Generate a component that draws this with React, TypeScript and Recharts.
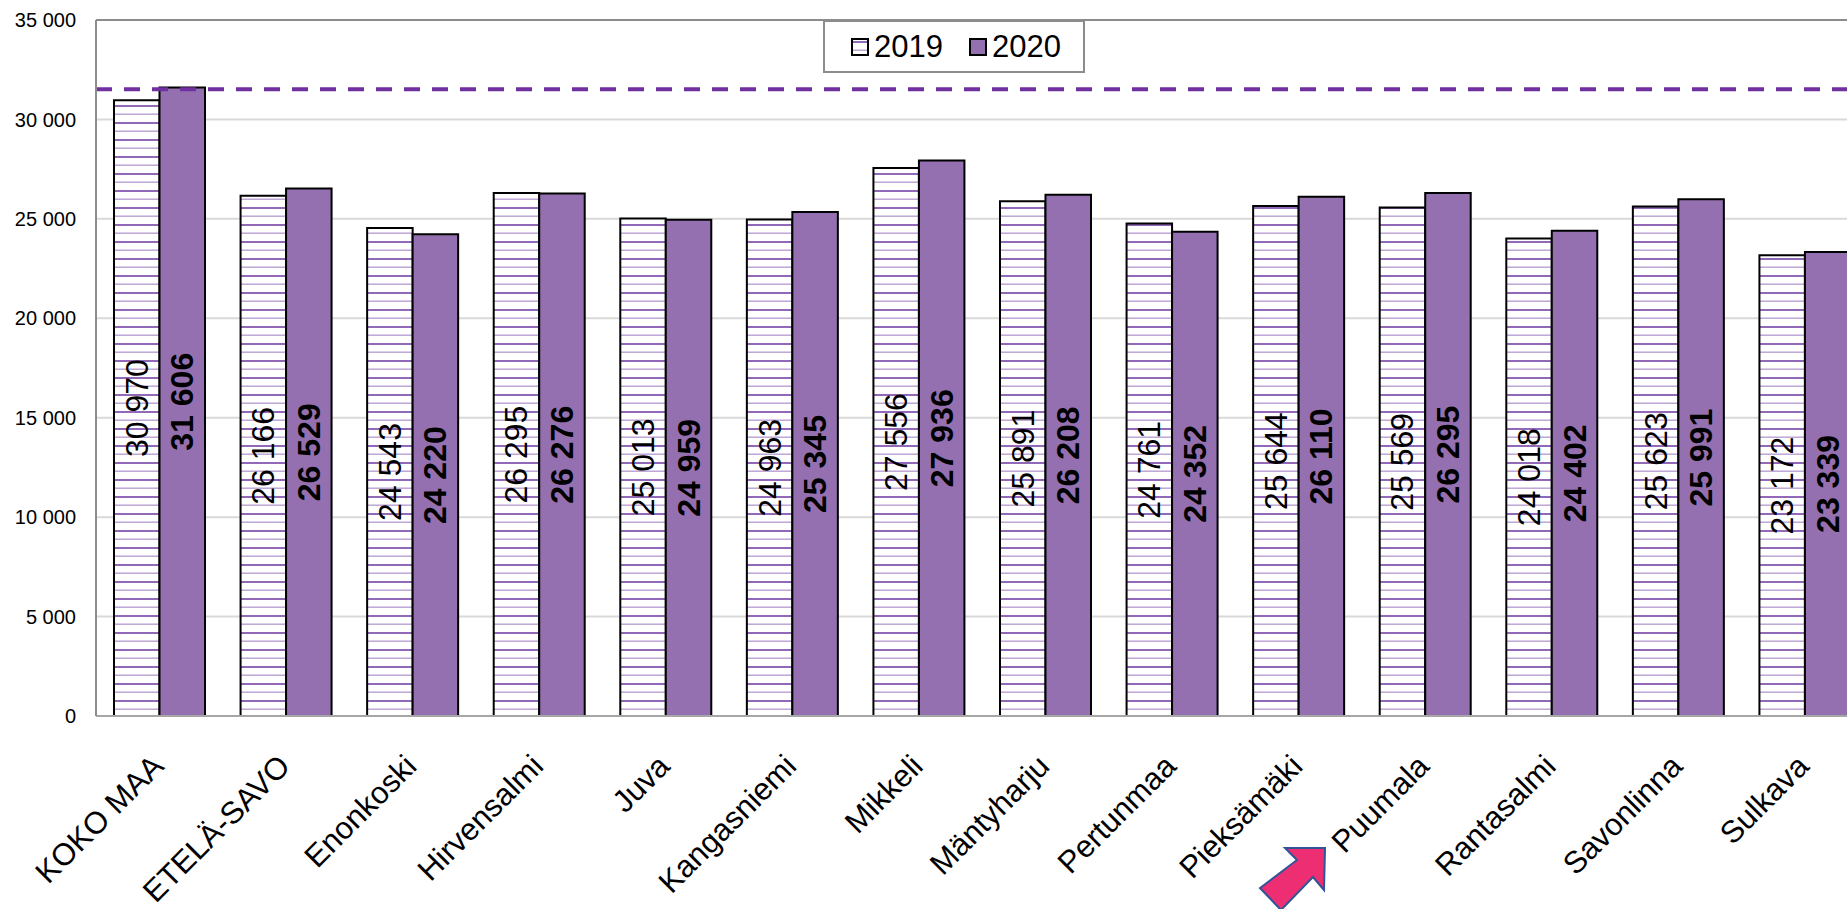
import React from 'react';
import { BarChart, Bar, XAxis, YAxis, CartesianGrid, ReferenceLine, LabelList } from 'recharts';

// Values
const municipalities = [
  'KOKO MAA', 'ETELÄ-SAVO', 'Enonkoski', 'Hirvensalmi', 'Juva', 'Kangasniemi', 'Mikkeli',
  'Mäntyharju', 'Pertunmaa', 'Pieksämäki', 'Puumala', 'Rantasalmi', 'Savonlinna', 'Sulkava',
];
const values2019 = [30970, 26166, 24543, 26295, 25013, 24963, 27556, 25891, 24761, 25644, 25569, 24018, 25623, 23172];
const values2020 = [31606, 26529, 24220, 26276, 24959, 25345, 27936, 26208, 24352, 26110, 26295, 24402, 25991, 23339];
const yTicks = [0, 5000, 10000, 15000, 20000, 25000, 30000, 35000];
const referenceValue = 31515;

const data = municipalities.map((name, i) => ({ name, y2019: values2019[i], y2020: values2020[i] }));

const FONT = '"Liberation Sans", Arial, sans-serif';
const PURPLE = '#9470b0';
const fmt = (v: number) => String(v).replace(/\B(?=(\d{3})+(?!\d))/g, ' ');

const XTick = (props: any) => {
  const { x, y, payload } = props;
  const ax = x + 6;
  const ay = y + 44;
  return (
    <text
      x={ax}
      y={ay}
      transform={`rotate(-45, ${ax}, ${ay})`}
      textAnchor="end"
      fontSize={31}
      fontFamily={FONT}
      fill="#000"
    >
      {payload.value}
    </text>
  );
};

const makeLabel = (bold: boolean) => (props: any) => {
  const { x, y, width, height, value } = props;
  const cx = x + width / 2;
  const cy = y + height / 2;
  return (
    <text
      x={cx}
      y={cy}
      transform={`rotate(-90, ${cx}, ${cy})`}
      textAnchor="middle"
      dominantBaseline="central"
      fontSize={32}
      fontWeight={bold ? 'bold' : 'normal'}
      fontFamily={FONT}
      fill="#000"
    >
      {fmt(value)}
    </text>
  );
};

const LegendSwatch = ({ patterned }: { patterned: boolean }) => (
  <svg width={18} height={18} style={{ display: 'block' }}>
    <rect x={1} y={1} width={16} height={16} fill={patterned ? 'url(#hlines)' : PURPLE} stroke="#000" strokeWidth={2} />
  </svg>
);

export default function App() {
  return (
    <div style={{ position: 'absolute', left: 0, top: 0, width: 1847, height: 909, overflow: 'hidden', background: '#fff' }}>
      <svg width={0} height={0} style={{ position: 'absolute' }}>
        <defs>
          <pattern id="hlines" patternUnits="userSpaceOnUse" width={8} height={17}>
            <rect x={0} y={0} width={8} height={17} fill="#fff" />
            <rect x={0} y={3} width={8} height={2} fill="#9169b8" />
            <rect x={0} y={11.5} width={8} height={1.4} fill="#b9a0d2" />
          </pattern>
        </defs>
      </svg>
      <BarChart
        width={1880}
        height={909}
        data={data}
        margin={{ top: 20, right: 12, left: 0, bottom: 0 }}
        barGap={0}
        barSize={45.5}
      >
        <CartesianGrid vertical={false} stroke="#d9d9d9" strokeWidth={2} />
        <XAxis
          dataKey="name"
          interval={0}
          height={193}
          tick={<XTick />}
          tickLine={false}
          axisLine={{ stroke: '#a6a6a6', strokeWidth: 2 }}
        />
        <YAxis
          width={96}
          domain={[0, 35000]}
          ticks={yTicks}
          tickFormatter={fmt}
          tickLine={false}
          tickSize={0}
          tickMargin={20}
          axisLine={{ stroke: '#8c8c8c', strokeWidth: 2 }}
          tick={{ fontSize: 20, fontFamily: FONT, fill: '#000' }}
        />
        <ReferenceLine y={35000} stroke="#8c8c8c" strokeWidth={2} />
        <Bar dataKey="y2019" fill="url(#hlines)" stroke="#000" strokeWidth={2} isAnimationActive={false}>
          <LabelList dataKey="y2019" content={makeLabel(false)} />
        </Bar>
        <Bar dataKey="y2020" fill={PURPLE} stroke="#000" strokeWidth={2} isAnimationActive={false}>
          <LabelList dataKey="y2020" content={makeLabel(true)} />
        </Bar>
        <ReferenceLine y={referenceValue} stroke="#7030a0" strokeWidth={4} strokeDasharray="16 12" />
      </BarChart>

      {/* legend box */}
      <div
        style={{
          position: 'absolute', left: 823, top: 20, width: 258, height: 49,
          border: '2px solid #8c8c8c', background: '#fff', display: 'flex',
          alignItems: 'center', fontFamily: FONT, fontSize: 31, color: '#000', boxSizing: 'content-box',
        }}
      >
        <div style={{ marginLeft: 26 }}><LegendSwatch patterned /></div>
        <span style={{ marginLeft: 5 }}>2019</span>
        <div style={{ marginLeft: 26 }}><LegendSwatch patterned={false} /></div>
        <span style={{ marginLeft: 5 }}>2020</span>
      </div>

      {/* highlight arrow pointing at Puumala */}
      <svg width={1847} height={909} style={{ position: 'absolute', left: 0, top: 0, pointerEvents: 'none' }}>
        <polygon
          points="1325,848 1285,848 1297,860 1260,888 1281,910 1313,877 1324,890"
          fill="#ee2e72"
          stroke="#2f5597"
          strokeWidth={2}
        />
      </svg>
    </div>
  );
}
